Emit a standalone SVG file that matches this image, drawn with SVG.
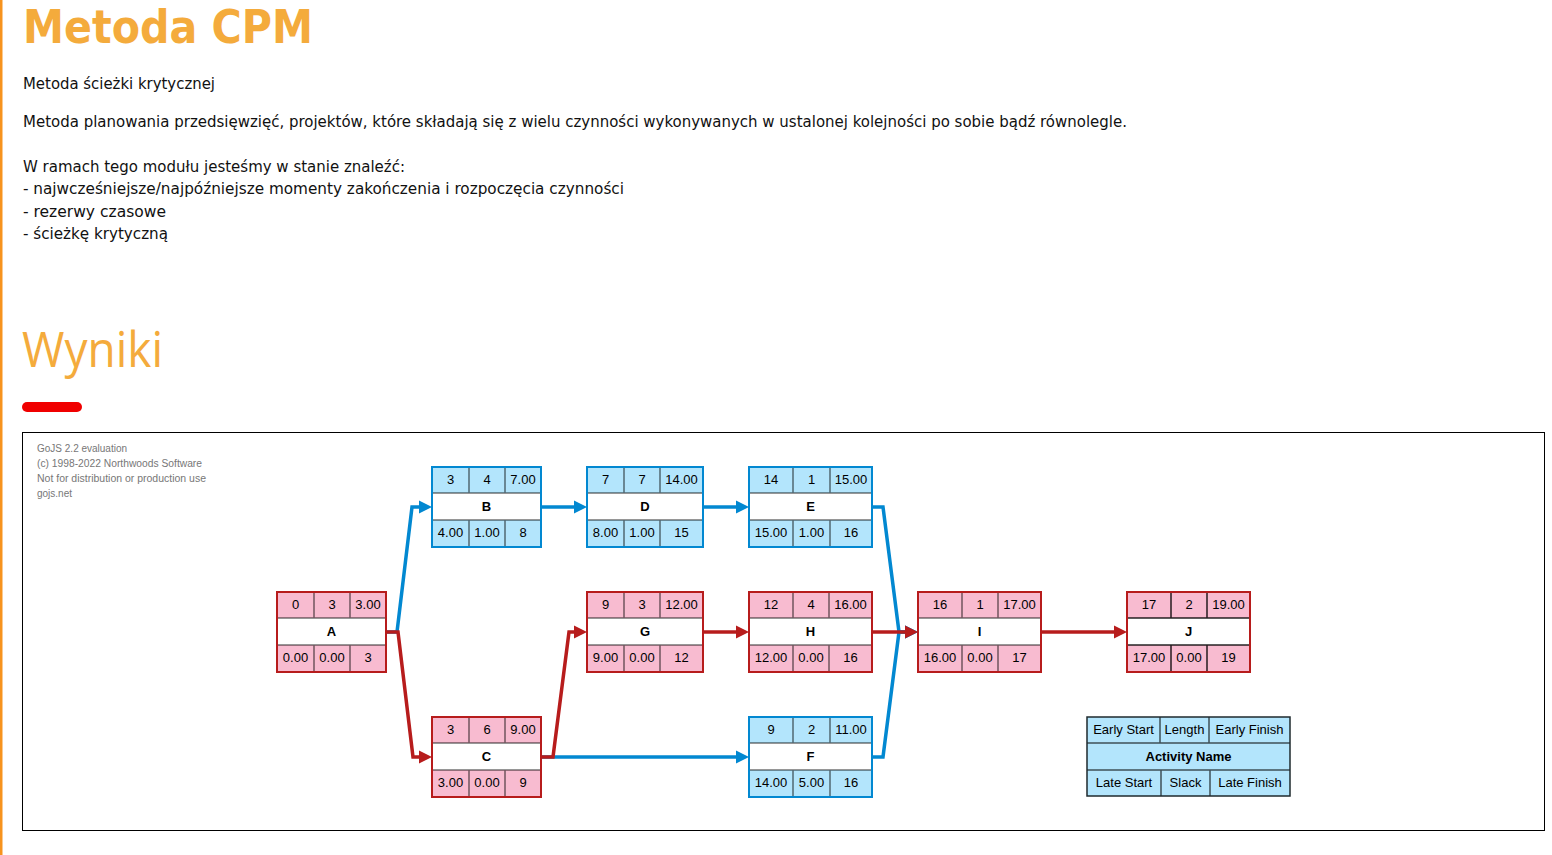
<svg xmlns="http://www.w3.org/2000/svg" width="1552" height="855" viewBox="0 0 1552 855">
<style>
.body{font-family:"DejaVu Sans Condensed","DejaVu Sans",sans-serif;font-size:15px;fill:#111}
.h1{font-family:"DejaVu Sans Condensed","DejaVu Sans",sans-serif;font-size:46px;font-weight:bold;fill:#F4AB3C}
.h2{font-family:"Open Sans","DejaVu Sans",sans-serif;font-size:50px;fill:#F4AB3C}
.wm{font-family:"Liberation Sans",Arial,sans-serif;font-size:10px;fill:#777}
.t{font-family:"Liberation Sans",Arial,sans-serif;font-size:13px;fill:#000;text-anchor:middle}
.nm{font-weight:bold}
.pink .bg{fill:#F8BBD0}
.pink .bd{fill:none;stroke:#B71C1C;stroke-width:2}
.blue .bg{fill:#B3E5FC}
.blue .bd{fill:none;stroke:#0288D1;stroke-width:2}
.legend .bg{fill:#B3E5FC}
.legend .bd{fill:none;stroke:#1f2a2e;stroke-width:1.5}
.mid{fill:#fff}
.sep{stroke:#000;stroke-opacity:0.55;stroke-width:1.5;fill:none}
.lb{fill:none;stroke:#0288D1;stroke-width:3.5;marker-end:url(#ab)}
.lr{fill:none;stroke:#B71C1C;stroke-width:3.5;marker-end:url(#ar)}
</style>
<defs>
<marker id="ab" markerUnits="userSpaceOnUse" markerWidth="16" markerHeight="14" viewBox="-3 -7 16 14" refX="0" refY="0" orient="auto" overflow="visible"><path d="M-3,-6.5 L10,0 L-3,6.5 z" fill="#0288D1"/></marker>
<marker id="ar" markerUnits="userSpaceOnUse" markerWidth="16" markerHeight="14" viewBox="-3 -7 16 14" refX="0" refY="0" orient="auto" overflow="visible"><path d="M-3,-6.5 L10,0 L-3,6.5 z" fill="#B71C1C"/></marker>
</defs>
<rect x="0" y="0" width="1552" height="855" fill="#fff"/>
<rect x="0" y="0" width="2.5" height="855" fill="#F7931E"/>

<g id="header">
<text class="h1" x="23" y="43" textLength="290" lengthAdjust="spacingAndGlyphs">Metoda CPM</text>
<text class="body" x="23" y="89" textLength="192" lengthAdjust="spacingAndGlyphs">Metoda ścieżki krytycznej</text>
<text class="body" x="23" y="127" textLength="1104" lengthAdjust="spacingAndGlyphs">Metoda planowania przedsięwzięć, projektów, które składają się z wielu czynności wykonywanych w ustalonej kolejności po sobie bądź równolegle.</text>
<text class="body" x="23" y="172" textLength="382" lengthAdjust="spacingAndGlyphs">W ramach tego modułu jesteśmy w stanie znaleźć:</text>
<text class="body" x="23" y="194" textLength="601" lengthAdjust="spacingAndGlyphs">- najwcześniejsze/najpóźniejsze momenty zakończenia i rozpoczęcia czynności</text>
<text class="body" x="23" y="217" textLength="143" lengthAdjust="spacingAndGlyphs">- rezerwy czasowe</text>
<text class="body" x="23" y="239" textLength="145" lengthAdjust="spacingAndGlyphs">- ścieżkę krytyczną</text>
<text class="h2" x="22" y="367" textLength="141" lengthAdjust="spacingAndGlyphs">Wyniki</text>
<rect x="22" y="402" width="60" height="10" rx="5" fill="#F00000"/>
</g>

<g id="frame">
<rect x="22.5" y="432.5" width="1522" height="398" fill="#fff" stroke="#000" stroke-width="1"/>
<text class="wm" x="37" y="452">GoJS 2.2 evaluation</text>
<text class="wm" x="37" y="467" textLength="165" lengthAdjust="spacingAndGlyphs">(c) 1998-2022 Northwoods Software</text>
<text class="wm" x="37" y="482" textLength="169" lengthAdjust="spacingAndGlyphs">Not for distribution or production use</text>
<text class="wm" x="37" y="497">gojs.net</text>
</g>

<g id="links">
<path class="lb" d="M386,632 L397,632 L412,507 L422,507"/>
<path class="lb" d="M541,507 L577,507"/>
<path class="lb" d="M703,507 L739,507"/>
<path class="lb" d="M541,757 L739,757"/>
<path class="lb" d="M872,507 L883,507 L899,632 L908,632"/>
<path class="lb" d="M872,757 L883,757 L899,632 L908,632"/>
<path class="lr" d="M386,632 L398,632 L413,757 L422,757"/>
<path class="lr" d="M541,757 L553,757 L569,632 L577,632"/>
<path class="lr" d="M703,632 L739,632"/>
<path class="lr" d="M872,632 L908,632"/>
<path class="lr" d="M1041,632 L1117,632"/>
</g>

<g id="node-A" class="pink" transform="translate(277,592)">
<rect class="bg" width="109" height="80"/><rect class="mid" y="26" width="109" height="27"/>
<path class="sep" d="M37,0V26M73,0V26M37,53V80M73,53V80M0,26H109M0,53H109"/>
<text class="t" x="18.5" y="17">0</text><text class="t" x="55" y="17">3</text><text class="t" x="91" y="17">3.00</text>
<text class="t nm" x="54.5" y="44">A</text>
<text class="t" x="18.5" y="70">0.00</text><text class="t" x="55" y="70">0.00</text><text class="t" x="91" y="70">3</text>
<rect class="bd" width="109" height="80"/>
</g>

<g id="node-B" class="blue" transform="translate(432,467)">
<rect class="bg" width="109" height="80"/><rect class="mid" y="26" width="109" height="27"/>
<path class="sep" d="M37,0V26M73,0V26M37,53V80M73,53V80M0,26H109M0,53H109"/>
<text class="t" x="18.5" y="17">3</text><text class="t" x="55" y="17">4</text><text class="t" x="91" y="17">7.00</text>
<text class="t nm" x="54.5" y="44">B</text>
<text class="t" x="18.5" y="70">4.00</text><text class="t" x="55" y="70">1.00</text><text class="t" x="91" y="70">8</text>
<rect class="bd" width="109" height="80"/>
</g>

<g id="node-C" class="pink" transform="translate(432,717)">
<rect class="bg" width="109" height="80"/><rect class="mid" y="26" width="109" height="27"/>
<path class="sep" d="M37,0V26M73,0V26M37,53V80M73,53V80M0,26H109M0,53H109"/>
<text class="t" x="18.5" y="17">3</text><text class="t" x="55" y="17">6</text><text class="t" x="91" y="17">9.00</text>
<text class="t nm" x="54.5" y="44">C</text>
<text class="t" x="18.5" y="70">3.00</text><text class="t" x="55" y="70">0.00</text><text class="t" x="91" y="70">9</text>
<rect class="bd" width="109" height="80"/>
</g>

<g id="node-D" class="blue" transform="translate(587,467)">
<rect class="bg" width="116" height="80"/><rect class="mid" y="26" width="116" height="27"/>
<path class="sep" d="M37,0V26M73,0V26M37,53V80M73,53V80M0,26H116M0,53H116"/>
<text class="t" x="18.5" y="17">7</text><text class="t" x="55" y="17">7</text><text class="t" x="94.5" y="17">14.00</text>
<text class="t nm" x="58" y="44">D</text>
<text class="t" x="18.5" y="70">8.00</text><text class="t" x="55" y="70">1.00</text><text class="t" x="94.5" y="70">15</text>
<rect class="bd" width="116" height="80"/>
</g>

<g id="node-G" class="pink" transform="translate(587,592)">
<rect class="bg" width="116" height="80"/><rect class="mid" y="26" width="116" height="27"/>
<path class="sep" d="M37,0V26M73,0V26M37,53V80M73,53V80M0,26H116M0,53H116"/>
<text class="t" x="18.5" y="17">9</text><text class="t" x="55" y="17">3</text><text class="t" x="94.5" y="17">12.00</text>
<text class="t nm" x="58" y="44">G</text>
<text class="t" x="18.5" y="70">9.00</text><text class="t" x="55" y="70">0.00</text><text class="t" x="94.5" y="70">12</text>
<rect class="bd" width="116" height="80"/>
</g>

<g id="node-E" class="blue" transform="translate(749,467)">
<rect class="bg" width="123" height="80"/><rect class="mid" y="26" width="123" height="27"/>
<path class="sep" d="M44,0V26M81,0V26M44,53V80M81,53V80M0,26H123M0,53H123"/>
<text class="t" x="22" y="17">14</text><text class="t" x="62.5" y="17">1</text><text class="t" x="102" y="17">15.00</text>
<text class="t nm" x="61.5" y="44">E</text>
<text class="t" x="22" y="70">15.00</text><text class="t" x="62.5" y="70">1.00</text><text class="t" x="102" y="70">16</text>
<rect class="bd" width="123" height="80"/>
</g>

<g id="node-H" class="pink" transform="translate(749,592)">
<rect class="bg" width="123" height="80"/><rect class="mid" y="26" width="123" height="27"/>
<path class="sep" d="M44,0V26M80,0V26M44,53V80M80,53V80M0,26H123M0,53H123"/>
<text class="t" x="22" y="17">12</text><text class="t" x="62" y="17">4</text><text class="t" x="101.5" y="17">16.00</text>
<text class="t nm" x="61.5" y="44">H</text>
<text class="t" x="22" y="70">12.00</text><text class="t" x="62" y="70">0.00</text><text class="t" x="101.5" y="70">16</text>
<rect class="bd" width="123" height="80"/>
</g>

<g id="node-F" class="blue" transform="translate(749,717)">
<rect class="bg" width="123" height="80"/><rect class="mid" y="26" width="123" height="27"/>
<path class="sep" d="M44,0V26M81,0V26M44,53V80M81,53V80M0,26H123M0,53H123"/>
<text class="t" x="22" y="17">9</text><text class="t" x="62.5" y="17">2</text><text class="t" x="102" y="17">11.00</text>
<text class="t nm" x="61.5" y="44">F</text>
<text class="t" x="22" y="70">14.00</text><text class="t" x="62.5" y="70">5.00</text><text class="t" x="102" y="70">16</text>
<rect class="bd" width="123" height="80"/>
</g>

<g id="node-I" class="pink" transform="translate(918,592)">
<rect class="bg" width="123" height="80"/><rect class="mid" y="26" width="123" height="27"/>
<path class="sep" d="M44,0V26M80,0V26M44,53V80M80,53V80M0,26H123M0,53H123"/>
<text class="t" x="22" y="17">16</text><text class="t" x="62" y="17">1</text><text class="t" x="101.5" y="17">17.00</text>
<text class="t nm" x="61.5" y="44">I</text>
<text class="t" x="22" y="70">16.00</text><text class="t" x="62" y="70">0.00</text><text class="t" x="101.5" y="70">17</text>
<rect class="bd" width="123" height="80"/>
</g>

<g id="node-J" class="pink" transform="translate(1127,592)">
<rect class="bg" width="123" height="80"/><rect class="mid" y="26" width="123" height="27"/>
<path class="sep" d="M44,0V26M80,0V26M44,53V80M80,53V80M0,26H123M0,53H123" style="stroke-opacity:0.85"/>
<text class="t" x="22" y="17">17</text><text class="t" x="62" y="17">2</text><text class="t" x="101.5" y="17">19.00</text>
<text class="t nm" x="61.5" y="44">J</text>
<text class="t" x="22" y="70">17.00</text><text class="t" x="62" y="70">0.00</text><text class="t" x="101.5" y="70">19</text>
<rect class="bd" width="123" height="80"/>
</g>

<g id="legend" class="legend" transform="translate(1087,717)">
<rect class="bg" width="203" height="79"/>
<path class="sep" d="M73,0V26M122,0V26M74,53V79M123,53V79M0,26H203M0,53H203" style="stroke-opacity:0.65"/>
<text class="t" x="36.5" y="17">Early Start</text><text class="t" x="97.5" y="17">Length</text><text class="t" x="162.5" y="17">Early Finish</text>
<text class="t nm" x="101.5" y="44">Activity Name</text>
<text class="t" x="37" y="70">Late Start</text><text class="t" x="98.5" y="70">Slack</text><text class="t" x="163" y="70">Late Finish</text>
<rect class="bd" width="203" height="79"/>
</g>
</svg>
